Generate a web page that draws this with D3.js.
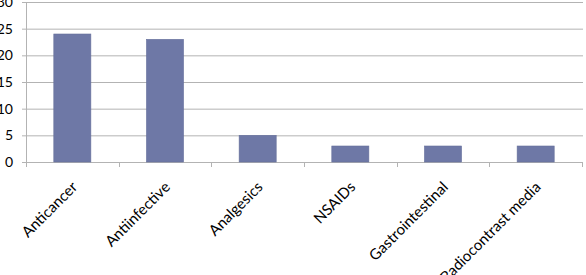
<!DOCTYPE html>
<html><head><meta charset="utf-8">
<script src="https://cdn.jsdelivr.net/npm/d3@7"></script>
<style>body{margin:0;background:#fff}svg{display:block}text{font-family:Lato,"Open Sans",sans-serif}</style>
</head><body>
<svg id="c" width="586" height="275"></svg>
<script>
const categories = ["Anticancer","Antiinfective","Analgesics","NSAIDs","Gastrointestinal","Radiocontrast media"];
const values = [24,23,5,3,3,3];
const yTicks = [0,5,10,15,20,25,30];

(function(){
const svg = d3.select("#c");
const mL = 26, mR = 582, mT = 2, mB = 162;
const x = d3.scaleBand().domain(categories).range([mL, mR]).padding(0);
const y = d3.scaleLinear().domain([0,30]).range([mB, mT]);

svg.append("g").selectAll("line").data(yTicks).join("line")
  .attr("x1", mL - 4).attr("x2", mR + 1)
  .attr("y1", d => y(d) + 0.5).attr("y2", d => y(d) + 0.5)
  .attr("stroke", "#b3b3b3").attr("stroke-width", 1);

svg.append("line").attr("x1", mL + 0.5).attr("x2", mL + 0.5)
  .attr("y1", mT).attr("y2", mB + 0.5).attr("stroke", "#b3b3b3");

const tickPos = categories.map(c => x(c)).concat([x(categories[categories.length-1]) + x.bandwidth()]);
svg.append("g").selectAll("line").data(tickPos).join("line")
  .attr("x1", d => Math.round(d) + 0.5).attr("x2", d => Math.round(d) + 0.5)
  .attr("y1", mB).attr("y2", mB + 5).attr("stroke", "#b3b3b3");

svg.append("g").selectAll("text").data(yTicks).join("text")
  .attr("x", 13).attr("y", d => y(d)).attr("dy", "0.36em")
  .attr("text-anchor", "end").attr("font-size", 14).attr("fill", "#000")
  .text(d => d);

const bw = x.bandwidth() * 0.4;
svg.append("g").selectAll("rect").data(values).join("rect")
  .attr("x", (d,i) => x(categories[i]) + x.bandwidth()/2 - bw/2)
  .attr("width", bw)
  .attr("y", d => y(d))
  .attr("height", d => y(0) - y(d))
  .attr("fill", "#6e78a6")
  .attr("stroke", "#66709c").attr("stroke-width", 0.6);

svg.append("g").selectAll("text").data(categories).join("text")
  .attr("transform", d => `translate(${x(d) + x.bandwidth()/2 + 6},${mB + 26}) rotate(-45)`)
  .attr("text-anchor", "end").attr("font-size", 15).attr("fill", "#000")
  .text(d => d);
})();
</script>
</body></html>
